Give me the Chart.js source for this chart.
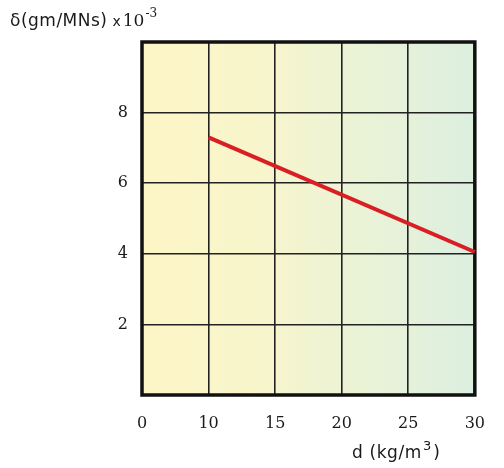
<!DOCTYPE html>
<html>
<head>
<meta charset="utf-8">
<script src="https://cdn.jsdelivr.net/npm/chart.js@4.4.0/dist/chart.umd.min.js"></script>
<style>
  html, body { margin: 0; padding: 0; background: #ffffff; }
  #wrap { width: 504px; height: 468px; position: relative; }
</style>
</head>
<body>
<div id="wrap"><canvas id="chart"></canvas></div>
<script>
/* ── DATA ─────────────────────────────────────────────── */
const densityValues = [10, 30];          // d (kg/m3)
const deltaValues = [7.3, 4.05];         // δ (gm/MNs) x10^-3
const xTickValues = [5, 10, 15, 20, 25, 30];
const xTickLabels = ['0', '10', '15', '20', '25', '30'];
const yTickLabels = { 2: '2', 4: '4', 6: '6', 8: '8' };

const SERIF = '"DejaVu Serif", "Liberation Serif", serif';
const SANS = '"DejaVu Sans", "Liberation Sans", sans-serif';

/* writes one run of text and returns the x where the next run starts */
function run(ctx, x, y, text, font, spacing) {
  ctx.font = font;
  ctx.letterSpacing = (spacing || 0) + 'px';
  ctx.fillText(text, x, y);
  return x + ctx.measureText(text).width;
}

/* ── PANEL BACKGROUND, FRAME, LABELS ─────────────────── */
const panelPlugin = {
  id: 'panel',
  beforeDraw(chart) {
    const { ctx, chartArea: a } = chart;
    const g = ctx.createLinearGradient(a.left, 0, a.right, 0);
    g.addColorStop(0, '#fdf5c6');
    g.addColorStop(0.35, '#f8f5cc');
    g.addColorStop(0.65, '#ebf3d6');
    g.addColorStop(1, '#dcefe0');
    ctx.save();
    ctx.fillStyle = g;
    ctx.fillRect(a.left, a.top, a.right - a.left, a.bottom - a.top);
    ctx.restore();
  },
  beforeDatasetsDraw(chart) {
    const { ctx, chartArea: a } = chart;
    ctx.save();
    ctx.strokeStyle = '#111111';
    ctx.lineWidth = 3.5;
    ctx.strokeRect(a.left, a.top, a.right - a.left, a.bottom - a.top);
    ctx.restore();
  },
  afterDraw(chart) {
    const { ctx } = chart;
    ctx.save();
    ctx.fillStyle = '#1a1a1a';
    ctx.textBaseline = 'alphabetic';

    // y-axis unit: δ(gm/MNs) x10^-3
    let x = run(ctx, 10, 26, 'δ(gm/MNs)', '17px ' + SANS, 0.5);
    x = run(ctx, x + 5, 26, 'x', '14px ' + SANS, 0);
    x = run(ctx, x + 2, 26, '10', '17px ' + SERIF, 0);
    run(ctx, x + 1, 17, '-3', '12px ' + SERIF, 0);

    // x-axis unit: d (kg/m^3)
    x = run(ctx, 352, 458, 'd (kg/m', '17px ' + SANS, 0.6);
    x = run(ctx, x + 1, 450, '3', '13px ' + SANS, 0);
    run(ctx, x + 2, 458, ')', '17px ' + SANS, 0);
    ctx.restore();
  }
};

new Chart(document.getElementById('chart'), {
  type: 'line',
  data: {
    datasets: [{
      data: densityValues.map((d, i) => ({ x: d, y: deltaValues[i] })),
      borderColor: '#d91e24',
      borderWidth: 4,
      pointRadius: 0,
      fill: false,
      tension: 0,
      clip: 6
    }]
  },
  options: {
    responsive: true,
    maintainAspectRatio: false,
    animation: false,
    devicePixelRatio: 1,
    layout: { padding: { top: 42, right: 27, left: 0, bottom: 0 } },
    plugins: {
      legend: { display: false },
      tooltip: { enabled: false }
    },
    scales: {
      x: {
        type: 'linear',
        min: 5, max: 30,
        afterFit: s => { s.height = 73; },
        afterBuildTicks: s => { s.ticks = xTickValues.map(v => ({ value: v })); },
        grid: { color: '#222222', lineWidth: 1.6, drawTicks: false },
        border: { display: false },
        ticks: {
          padding: 19,
          color: '#1a1a1a',
          font: { family: SERIF, size: 16 },
          callback: v => xTickLabels[xTickValues.indexOf(v)]
        }
      },
      y: {
        min: 0, max: 10,
        afterFit: s => { s.width = 142; },
        grid: { color: '#222222', lineWidth: 1.6, drawTicks: false },
        border: { display: false },
        ticks: {
          stepSize: 2,
          padding: 14,
          color: '#1a1a1a',
          font: { family: SERIF, size: 16 },
          callback: v => yTickLabels[v] || ''
        }
      }
    }
  },
  plugins: [panelPlugin]
});
</script>
</body>
</html>
